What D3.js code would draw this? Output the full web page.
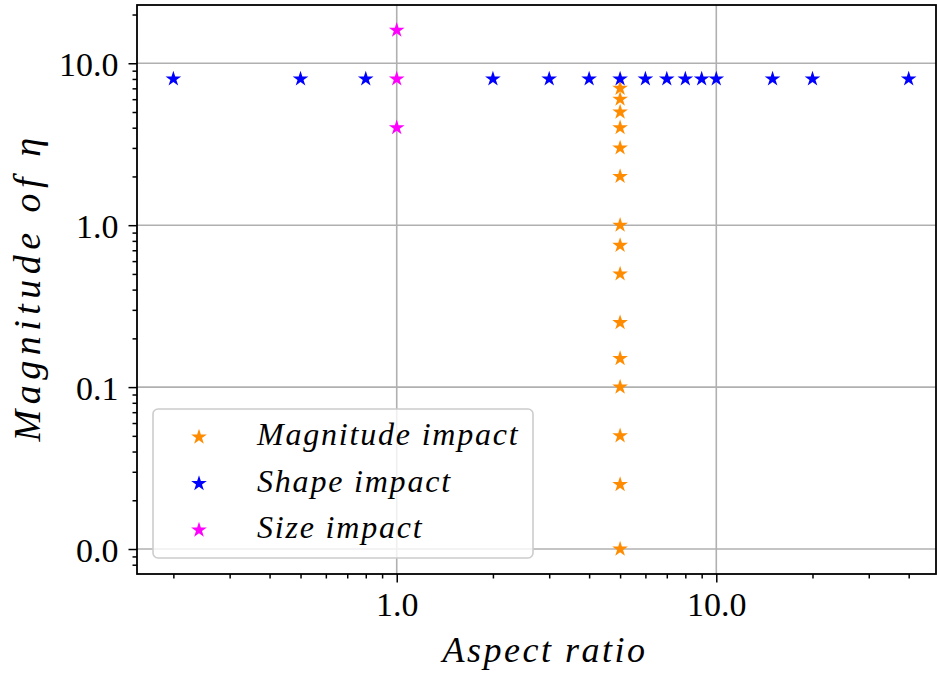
<!DOCTYPE html>
<html>
<head>
<meta charset="utf-8">
<script src="https://cdn.jsdelivr.net/npm/d3@7"></script>
<style>
  body { margin: 0; background: #fff; }
  text { font-family: "Liberation Serif", "DejaVu Serif", serif; fill: #000; }
  .lbl { font-style: italic; }
</style>
</head>
<body>
<div id="canvas"></div>
<script>
// data
var magnitudeX = 5;
var magnitudeY = [0.01, 0.025, 0.05, 0.1, 0.15, 0.25, 0.5, 0.75, 1, 2, 3, 4, 5, 6, 7];
var shapeX = [0.2, 0.5, 0.8, 2, 3, 4, 5, 6, 7, 8, 9, 10, 15, 20, 40];
var shapeY = 8;
var sizeX = 1;
var sizeY = [4, 8, 16];
var xTicks = [1, 10];
var yTicks = [0.01, 0.1, 1, 10];
var seriesNames = ["Magnitude impact", "Shape impact", "Size impact"];
var seriesColors = ["#ff8c00", "#0000ff", "#ff00ff"];

function init() {
    var W = 937, H = 673;
    var left = 137, right = 936, top = 5, bottom = 574;

    var svg = d3.select("#canvas").append("svg")
        .attr("width", W)
        .attr("height", H);

    var x = d3.scaleLog().domain([0.1539, 48.7]).range([left, right]);
    var y = d3.scaleLog().domain([0.00701, 22.9]).range([bottom, top]);

    // minor tick values
    var xMinor = [], yMinor = [];
    [0.1, 1, 10].forEach(function (d) {
        for (var k = 2; k <= 9; k++) {
            var v = d * k;
            if (v >= x.domain()[0] && v <= x.domain()[1]) xMinor.push(v);
        }
    });
    [0.001, 0.01, 0.1, 1, 10].forEach(function (d) {
        for (var k = 2; k <= 9; k++) {
            var v = d * k;
            if (v >= y.domain()[0] && v <= y.domain()[1]) yMinor.push(v);
        }
    });

    // grid
    svg.append("g").selectAll("line").data(xTicks).enter().append("line")
        .attr("x1", d => x(d)).attr("x2", d => x(d))
        .attr("y1", top).attr("y2", bottom)
        .attr("stroke", "#b0b0b0").attr("stroke-width", 1.6);
    svg.append("g").selectAll("line").data(yTicks).enter().append("line")
        .attr("y1", d => y(d)).attr("y2", d => y(d))
        .attr("x1", left).attr("x2", right)
        .attr("stroke", "#b0b0b0").attr("stroke-width", 1.6);

    // points
    var series = [
        magnitudeY.map(v => [magnitudeX, v]),
        shapeX.map(v => [v, shapeY]),
        sizeY.map(v => [sizeX, v])
    ];
    var star = d3.symbol().type(d3.symbolStar).size(76);
    series.forEach(function (pts, i) {
        svg.append("g").selectAll("path").data(pts).enter().append("path")
            .attr("d", star)
            .attr("transform", d => "translate(" + x(d[0]) + "," + y(d[1]) + ")")
            .attr("fill", seriesColors[i]);
    });

    // axes
    var fmt = d3.format(".1f");
    var xAxis = svg.append("g").attr("transform", "translate(0," + bottom + ")")
        .call(d3.axisBottom(x).tickValues(xTicks).tickFormat(fmt).tickSize(8.5).tickPadding(9));
    svg.append("g").attr("transform", "translate(0," + bottom + ")")
        .call(d3.axisBottom(x).tickValues(xMinor).tickFormat("").tickSize(4.5));
    var yAxis = svg.append("g").attr("transform", "translate(" + left + ",0)")
        .call(d3.axisLeft(y).tickValues(yTicks).tickFormat(fmt).tickSize(8.5).tickPadding(10));
    svg.append("g").attr("transform", "translate(" + left + ",0)")
        .call(d3.axisLeft(y).tickValues(yMinor).tickFormat("").tickSize(4.5));
    svg.selectAll(".domain").remove();
    svg.selectAll(".tick line").attr("stroke", "#000").attr("stroke-width", 1.5);
    xAxis.selectAll("text").attr("font-size", 34).attr("font-family", "Liberation Serif");
    yAxis.selectAll("text").attr("font-size", 34).attr("font-family", "Liberation Serif")
        .attr("dy", "0.36em");

    // frame
    svg.append("rect")
        .attr("x", left).attr("y", top)
        .attr("width", right - left).attr("height", bottom - top)
        .attr("fill", "none").attr("stroke", "#000").attr("stroke-width", 1.8);

    // axis labels
    svg.append("text").attr("class", "lbl")
        .attr("x", 545).attr("y", 662)
        .attr("text-anchor", "middle").attr("font-size", 36)
        .attr("letter-spacing", 2.5)
        .text("Aspect ratio");
    svg.append("text").attr("class", "lbl")
        .attr("transform", "translate(40,287) rotate(-90)")
        .attr("text-anchor", "middle").attr("font-size", 38)
        .attr("letter-spacing", 5.5)
        .text("Magnitude of η");

    // legend
    var lg = svg.append("g").attr("transform", "translate(153,409)");
    lg.append("rect")
        .attr("width", 380).attr("height", 149)
        .attr("rx", 5).attr("ry", 5)
        .attr("fill", "#fff").attr("fill-opacity", 0.8)
        .attr("stroke", "#cccccc").attr("stroke-width", 1.6);
    seriesNames.forEach(function (name, i) {
        var row = lg.append("g").attr("transform", "translate(0," + (28 + i * 46.5) + ")");
        row.append("path").attr("d", star)
            .attr("transform", "translate(46,0)")
            .attr("fill", seriesColors[i]);
        row.append("text").attr("class", "lbl")
            .attr("x", 104).attr("y", 8)
            .attr("font-size", 32)
            .attr("letter-spacing", 1.8)
            .text(name);
    });
}
window.onload = init;
</script>
</body>
</html>
